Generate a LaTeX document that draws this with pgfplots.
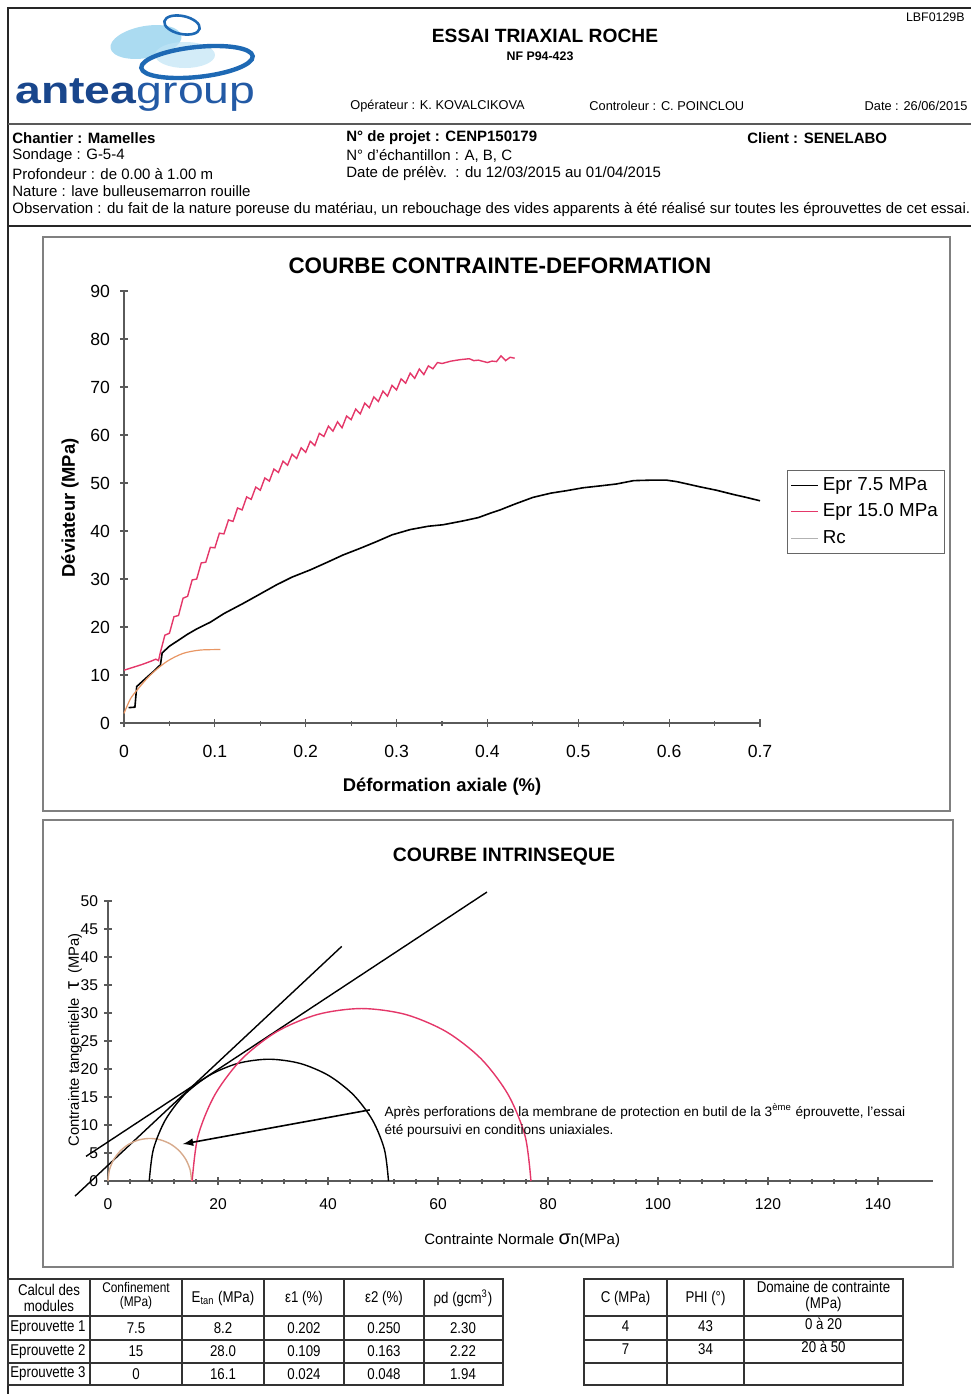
\documentclass[border=0pt]{standalone}
\usepackage{fontspec}
\setmainfont{Liberation Sans}
\newfontfamily\narrowfont[FakeStretch=0.85]{Liberation Sans}
\newfontfamily\logofont[FakeStretch=1.22]{Liberation Sans}
\usepackage{pgfplots}
\pgfplotsset{compat=1.18}
\definecolor{redc}{RGB}{228,55,105}
\definecolor{orc}{RGB}{232,150,100}
\definecolor{circ3}{RGB}{215,170,140}
\definecolor{logoblue}{RGB}{25,70,140}
\definecolor{logoblue2}{RGB}{35,90,165}
\definecolor{ringblue}{RGB}{30,105,180}
\definecolor{lightblue}{RGB}{150,210,238}
\definecolor{axgray}{RGB}{90,90,90}
\newcommand{\hf}{\fontsize{7.5}{9}\selectfont}
\newcommand{\smf}{\fontsize{6.4}{8}\selectfont}
\begin{document}
\begin{tikzpicture}
\begin{scope}[x=0.5pt,y=-0.5pt]
\path[use as bounding box] (0,0) rectangle (971,1394);
% ---------- frame ----------
\draw[line width=1.1pt,black!85] (8,1394) -- (8,8) -- (971,8);
\draw[line width=1pt,black!65] (8,124) -- (971,124);
\draw[line width=1.3pt,black!85] (8,226) -- (971,226);
\draw[black!50, line width=0.6pt] (43,237) rectangle (950,811);
\draw[black!50, line width=0.6pt] (43,820) rectangle (953,1267);
% ---------- logo ----------
\fill[lightblue, opacity=0.8, rotate around={10:(146,42)}] (146,42) ellipse [x radius=36, y radius=16];
\fill[lightblue!60, opacity=0.7] (185,55) ellipse [x radius=30, y radius=13];
\draw[ringblue, line width=1.3pt, rotate around={-12:(182,25)}] (182,25) ellipse [x radius=18, y radius=9];
\draw[ringblue, line width=2.2pt, rotate around={6:(197,62)}] (197,62) ellipse [x radius=56, y radius=15];
\node[anchor=base west, inner sep=0, font=\logofont\fontsize{19}{19}\selectfont] at (15,103) {\textcolor{logoblue}{\textbf{antea}}\textcolor{logoblue2}{group}};
% ---------- header text ----------
\node[inner sep=0, font=\bfseries\fontsize{9.6}{11}\selectfont] at (545,36) {ESSAI TRIAXIAL ROCHE};
\node[inner sep=0, font=\bfseries\fontsize{6.2}{7}\selectfont] at (540,56) {NF P94-423};
\node[inner sep=0, anchor=east, font=\fontsize{6.2}{7}\selectfont] at (965,17) {LBF0129B};
\node[inner sep=0, anchor=west, font=\smf] at (350,106) {Opérateur : K. KOVALCIKOVA};
\node[inner sep=0, anchor=west, font=\smf] at (589,106) {Controleur : C. POINCLOU};
\node[inner sep=0, anchor=east, font=\smf] at (968,106) {Date : 26/06/2015};
\node[inner sep=0, anchor=west, font=\hf\bfseries] at (12,138) {Chantier : Mamelles};
\node[inner sep=0, anchor=west, font=\hf] at (12,156) {Sondage : G-5-4};
\node[inner sep=0, anchor=west, font=\hf] at (12,174) {Profondeur : de 0.00 à 1.00 m};
\node[inner sep=0, anchor=west, font=\hf] at (12,191) {Nature : lave bulleusemarron rouille};
\node[inner sep=0, anchor=west, font=\hf] at (12,210) {Observation : du fait de la nature poreuse du matériau, un rebouchage des vides apparents à été réalisé sur toutes les éprouvettes de cet essai.};
\node[inner sep=0, anchor=west, font=\hf\bfseries] at (346,138) {N° de projet : CENP150179};
\node[inner sep=0, anchor=west, font=\hf] at (346,156) {N° d'échantillon : A, B, C};
\node[inner sep=0, anchor=west, font=\hf] at (346,174) {Date de prélèv.\ \ : du 12/03/2015 au 01/04/2015};
\node[inner sep=0, anchor=west, font=\hf\bfseries] at (747,138) {Client : SENELABO};
% ---------- tables ----------
\begin{scope}[every node/.style={inner sep=0, font=\narrowfont\fontsize{7.8}{9}\selectfont}]
\draw[line width=0.7pt, black!80] (8,1279) rectangle (503,1385);
\foreach \y in {1316,1340,1363} \draw[line width=0.6pt,black!80] (8,\y) -- (503,\y);
\foreach \x in {90,182,264,344,424} \draw[line width=0.6pt,black!80] (\x,1279) -- (\x,1385);
\node at (49,1290) {Calcul des};
\node at (49,1306) {modules};
\node[font=\narrowfont\fontsize{7}{8}\selectfont] at (136,1287) {Confinement};
\node[font=\narrowfont\fontsize{7}{8}\selectfont] at (136,1303) {(MPa)};
\node at (223,1298) {E\textsubscript{tan} (MPa)};
\node at (304,1298) {ε1 (\%)};
\node at (384,1298) {ε2 (\%)};
\node at (463,1298) {ρd (gcm\textsuperscript{3})};
\node[anchor=west] at (10,1328) {Eprouvette 1};
\node[anchor=west] at (10,1351.5) {Eprouvette 2};
\node[anchor=west] at (10,1374) {Eprouvette 3};
\node at (136,1328) {7.5};  \node at (223,1328) {8.2};  \node at (304,1328) {0.202}; \node at (384,1328) {0.250}; \node at (463,1328) {2.30};
\node at (136,1351.5) {15}; \node at (223,1351.5) {28.0}; \node at (304,1351.5) {0.109}; \node at (384,1351.5) {0.163}; \node at (463,1351.5) {2.22};
\node at (136,1374) {0};    \node at (223,1374) {16.1}; \node at (304,1374) {0.024}; \node at (384,1374) {0.048}; \node at (463,1374) {1.94};
\draw[line width=0.7pt, black!80] (584,1279) rectangle (903,1385);
\foreach \y in {1316,1340,1363} \draw[line width=0.6pt,black!80] (584,\y) -- (903,\y);
\foreach \x in {667,744} \draw[line width=0.6pt,black!80] (\x,1279) -- (\x,1385);
\node at (625.5,1298) {C (MPa)};
\node at (705.5,1298) {PHI (°)};
\node at (823.5,1287) {Domaine de contrainte};
\node at (823.5,1304) {(MPa)};
\node at (625.5,1326) {4}; \node at (705.5,1326) {43}; \node at (823.5,1324) {0 à 20};
\node at (625.5,1349) {7}; \node at (705.5,1349) {34}; \node at (823.5,1347) {20 à 50};
\end{scope}
\end{scope}

% ================= chart 1 =================
\begin{axis}[
  at={(62pt,-361.5pt)}, anchor=south west,
  scale only axis, width=318pt, height=216pt,
  xmin=0, xmax=0.7, ymin=0, ymax=90,
  enlargelimits=false, clip=false,
  axis lines=left, axis line style={-, axgray, line width=0.7pt},
  xtick={0,0.1,0.2,0.3,0.4,0.5,0.6,0.7},
  minor xtick={0.05,0.15,0.25,0.35,0.45,0.55,0.65},
  ytick={0,10,20,30,40,50,60,70,80,90},
  tick align=center, major tick length=4pt, minor tick length=2.5pt,
  tick style={axgray, line width=0.6pt},
  /pgf/number format/assume math mode=true,
  tick label style={font=\fontsize{8.8}{10}\selectfont},
  xticklabel style={anchor=north, yshift=-5.5pt},
  yticklabel style={anchor=east, xshift=-1.5pt},
  xlabel={Déformation axiale (\%)},
  xlabel style={at={(axis description cs:0.5,-0.148)}, anchor=center, font=\bfseries\fontsize{9.2}{11}\selectfont},
  ylabel={Déviateur (MPa)},
  ylabel style={at={(axis description cs:-0.085,0.498)}, anchor=center, font=\bfseries\fontsize{9.2}{11}\selectfont},
  title={COURBE CONTRAINTE-DEFORMATION},
  title style={at={(axis description cs:0.591,1.031)}, anchor=center, font=\bfseries\fontsize{11.2}{13}\selectfont},
  legend style={at={(axis description cs:1.042,0.586)}, anchor=north west, draw=black!60, line width=0.5pt,
     font=\fontsize{9.4}{11}\selectfont, inner xsep=1.5pt, inner ysep=1.5pt, row sep=1.2pt},
  legend cell align=left,
  legend image code/.code={\draw[#1] (0pt,0pt) -- (13.5pt,0pt);},
]
\addplot[black, line width=0.8pt] coordinates {
(0.005,3.2) (0.012,3.3) (0.014,7.6) (0.025,9.5) (0.034,11.0) (0.038,11.8) (0.040,12.0) (0.042,14.6)
(0.050,16.0) (0.058,17.0) (0.070,18.5) (0.080,19.6) (0.095,21.0) (0.110,22.8) (0.131,24.9) (0.150,26.9)
(0.168,28.8) (0.185,30.4) (0.205,31.9) (0.225,33.6) (0.241,35.0) (0.260,36.4) (0.278,37.8) (0.295,39.2)
(0.315,40.3) (0.335,41.0) (0.351,41.3) (0.373,42.1) (0.390,42.8) (0.403,43.7) (0.414,44.4) (0.430,45.6)
(0.450,47.0) (0.470,47.9) (0.487,48.4) (0.505,49.0) (0.524,49.4) (0.542,49.8) (0.561,50.5) (0.580,50.6)
(0.597,50.6) (0.608,50.3) (0.620,49.8) (0.634,49.2) (0.652,48.5) (0.671,47.6) (0.685,47.0) (0.700,46.3)};
\addlegendentry{Epr 7.5 MPa}
\addplot[redc, line width=0.7pt] coordinates {
(0.000,11.0) (0.010,11.6) (0.020,12.2) (0.030,12.9) (0.035,13.3) (0.038,13.0) (0.040,14.7) (0.045,18.3)
(0.050,18.7) (0.055,22.15) (0.060,22.4) (0.065,26.0) (0.070,26.4) (0.075,29.8) (0.080,30.0) (0.085,33.35)
(0.090,33.5) (0.095,36.6) (0.100,36.5) (0.105,39.55) (0.110,39.4) (0.115,42.3) (0.120,42.0) (0.125,44.8)
(0.130,44.4) (0.135,47.1) (0.140,46.6) (0.145,49.15) (0.150,48.5) (0.155,51.05) (0.160,50.4) (0.165,52.9)
(0.170,52.2) (0.175,54.55) (0.180,53.7) (0.185,56.0) (0.190,55.1) (0.195,57.35) (0.200,56.4) (0.205,58.7)
(0.210,57.8) (0.215,60.35) (0.220,59.7) (0.225,61.85) (0.230,60.8) (0.235,62.75) (0.240,61.5) (0.245,63.95)
(0.250,63.2) (0.255,65.4) (0.260,64.4) (0.265,66.65) (0.270,65.7) (0.275,67.95) (0.280,67.0) (0.285,69.15)
(0.290,68.1) (0.295,70.35) (0.300,69.4) (0.305,71.7) (0.310,70.8) (0.315,72.9) (0.320,71.8) (0.325,73.75)
(0.330,72.6) (0.335,74.4) (0.340,73.8) (0.345,75.1) (0.350,74.9) (0.360,75.4) (0.370,75.7) (0.380,75.9)
(0.385,75.5) (0.390,75.6) (0.400,75.1) (0.405,75.4) (0.410,75.3) (0.415,76.5) (0.420,75.5) (0.425,76.2) (0.430,76.0)};
\addlegendentry{Epr 15.0 MPa}
\addplot[orc, line width=0.6pt, smooth, legend image code/.code={\draw[black!30, line width=0.4pt] (0pt,0pt) -- (13.5pt,0pt);}] coordinates {
(0.000,2.0) (0.007,5.0) (0.015,7.0) (0.029,10.0) (0.047,12.8) (0.065,14.5) (0.084,15.2) (0.106,15.3)};
\addlegendentry{Rc}
\end{axis}

% ================= chart 2 =================
\begin{axis}[
  at={(54pt,-590.5pt)}, anchor=south west,
  scale only axis, width=412.5pt, height=140pt,
  xmin=0, xmax=150, ymin=0, ymax=50,
  enlargelimits=false, clip=false,
  axis lines=left, axis line style={-, axgray, line width=0.7pt},
  xtick={0,20,40,60,80,100,120,140}, minor x tick num=4,
  ytick={0,5,10,15,20,25,30,35,40,45,50},
  tick align=center, major tick length=4pt, minor tick length=2.5pt,
  tick style={axgray, line width=0.6pt},
  /pgf/number format/assume math mode=true,
  tick label style={font=\fontsize{7.8}{9}\selectfont},
  xticklabel style={anchor=north, yshift=-3.5pt},
  yticklabel style={anchor=east, xshift=0.5pt},
  xlabel={Contrainte Normale {\fontsize{10}{10}\selectfont σ}n(MPa)},
  xlabel style={at={(axis description cs:0.502,-0.214)}, anchor=center, font=\fontsize{7.5}{9}\selectfont},
  ylabel={Contrainte tangentielle\ \ {\fontsize{10}{10}\selectfont τ}\ \ (MPa)},
  ylabel style={at={(axis description cs:-0.040,0.504)}, anchor=center, font=\fontsize{7.4}{9}\selectfont},
  title={COURBE INTRINSEQUE},
  title style={at={(axis description cs:0.48,1.114)}, anchor=center, font=\bfseries\fontsize{9.7}{11}\selectfont},
]
\addplot[black, line width=0.7pt] coordinates {(-6,-2.7) (42.5,41.9)};
\addplot[black, line width=0.7pt] coordinates {(-4,4.4) (68.9,51.6)};
\addplot[circ3, line width=0.7pt, smooth] coordinates {
(15.2,0) (14.94,1.967) (14.18,3.8) (12.97,5.374) (11.4,6.582) (9.567,7.341) (7.6,7.6)
(5.633,7.341) (3.8,6.582) (2.226,5.374) (1.018,3.8) (0.259,1.967) (0,0)};
\addplot[black, line width=0.7pt, smooth] coordinates {
(51,0) (50.26,5.629) (48.09,10.875) (44.63,15.38) (40.13,18.836) (34.88,21.009) (29.25,21.75)
(23.62,21.009) (18.375,18.836) (13.87,15.38) (10.414,10.875) (8.241,5.629) (7.5,0)};
\addplot[redc, line width=0.7pt, smooth] coordinates {
(76.9,0) (75.85,7.97) (72.77,15.4) (67.88,21.78) (61.5,26.67) (54.07,29.75) (46.1,30.8)
(38.13,29.75) (30.7,26.67) (24.32,21.78) (19.43,15.4) (16.35,7.97) (15.3,0)};
\draw[-latex, black, line width=0.8pt] (axis cs:47.6,12.7) -- (axis cs:13.6,6.6);
\node[anchor=west, align=left, inner sep=0, font=\fontsize{6.8}{9}\selectfont] at (axis cs:50.2,10.9)
 {Après perforations de la membrane de protection en butil de la 3\textsuperscript{ème} éprouvette, l'essai\\été poursuivi en conditions uniaxiales.};
\end{axis}
\end{tikzpicture}
\end{document}
